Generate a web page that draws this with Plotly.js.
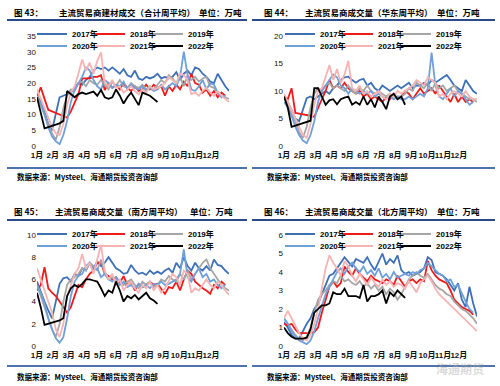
<!DOCTYPE html>
<html><head><meta charset="utf-8">
<script src="https://cdn.plot.ly/plotly-3.0.1.min.js"></script>
<style>html,body{margin:0;padding:0;background:#fff}#chart{width:500px;height:386px}</style>
</head><body><div id="chart"></div>
<script>
// ---------- data ----------
const years = ['2017年','2018年','2019年','2020年','2021年','2022年'];
const months = ['1月','2月','3月','4月','5月','6月','7月','8月','9月','10月','11月','12月'];

// Panel 43: total (万吨)
const p1_2017 = [16,14,11,7,5,10,15.5,16,16.5,17,18.5,20,19.5,21,22,24,25,24.5,25,24,25,24,23,24.5,22.5,22,24,21.5,21,22,21.5,22,23,21.5,22,21.5,22,23.5,21,23,24,22.5,25,24.5,23,22,20.5,20,23,21,19,17.5];
const p1_2018 = [15.5,18.7,15,11.5,11,10.5,10,9.5,9,11,13.5,16.5,21.5,21.5,21.5,22,22,22.5,17.8,20,18.5,19.5,18,20,18.5,17.5,19,17.5,18,19.5,18,19.5,18.5,19,16,19,17.5,19.5,18,20.5,19,23,20,19.5,17,18,16,17.5,15.5,17,16];
const p1_2019 = [16,13,10,7,4,2,6,12,16,18,17.5,20,20.5,19,21,20,19.5,21,19.5,18,20.5,19,21,19,18.5,20,19,18.5,19.5,18,19,18,19.5,21,20,22.5,21.5,20,22,19,22.5,21,22,20.5,21.5,22,19,18.5,17,16,15.5,15];
const p1_2020 = [15,13.5,10,6,3,1.5,0.6,3.5,8,14,18,20,22,25,24,21,19,18,21,20,18.5,19.5,19,20.5,18,19.5,18.5,18,19,17.5,18.5,17.5,18,19.5,18,19,20,19,22,30,22.5,18,17.5,19,21,18,20,19.5,17,15.5,16];
const p1_2021 = [18,15,12,9,6,4,3.5,7,13,17,19,23,27.5,24,26.5,23,27,29.8,20,19,21,18.5,19,17,18,19,17.5,16.5,18,17,19,18,18.5,19,20,22,21,20,23,22.5,21,16.5,17,16,17.5,18.5,17,16,17.5,16,15,14];
const p1_2022 = [15.5,11,5.6,6,6.5,6.8,7.2,8,17.5,16.5,15.5,16.5,17,16.5,17,17.3,16,17.8,15.5,15,15.5,18,16,13.5,15.5,17,15,13,17,16.5,16,15,14];

// Panel 44: East China
const p2_2017 = [9,8,6.5,5,4.5,6.5,8.7,9,8.5,9,9.5,10,9.5,10.5,11,12,12.5,12.6,12,11.5,12,12.2,11,11.5,10.5,10,11,10.5,10,10.5,11,10.5,11,11.5,10.5,11,11,11.5,11,12,11.5,12,12.5,12.9,12,11,10.5,10,12,11,10,9.5];
const p2_2018 = [9,8.5,10.5,6,5.9,5.8,5.7,5.5,5.3,7,8.5,10,12,10.5,11,10.5,11.5,10.5,10,9.5,10,9,9.5,8.5,9,8.5,8,9,8.5,9.5,8.5,9,10,9.5,8.5,9.5,10.5,9.5,10,10.5,9.5,11,10,9,8,9.5,8,9,8,8.5,8];
const p2_2019 = [9,7.5,6,4.5,2.5,1.5,3.5,7,9.5,10.5,10,11,11.5,10.5,11,10.5,10,11,10,9.5,10.5,10,11,10,9.5,10,9.5,9,9.5,8.5,9,9,9.5,10.5,10,11.5,11,10.5,11.5,10,11.5,10.5,11,10,10.5,11,10,9.5,9,8.5,8.5,8];
const p2_2020 = [8,7,5.5,3.5,2,1,0.5,2,4.5,8,10,11,12,13,12.5,11,10.5,9.5,10.5,10,9.5,10,9.5,10,9,9.5,9,8.5,9,8.5,9,8.5,8.5,9,8.5,9,9.5,9,10.5,17,11,9,8.5,9.5,10.5,9,10,9.5,8.5,7.5,8];
const p2_2021 = [9.5,8,6.5,5,3.5,2,1.5,4,7.5,10,10.5,12.5,14.7,12,14,11.5,13,15.5,10.5,10,11,9.5,10,9,9.5,10,9,8.5,9.5,9,10,9.5,10,10.5,11,12,11.5,11,12.5,12,11.5,9,9.5,8.5,9.5,10,9.5,9,10,9,8.5,8.5];
const p2_2022 = [9,7,3.5,3.7,3.9,4.1,4.3,4.6,10.5,10.5,9,7.5,8.3,8.5,7.6,8.5,8.8,9,7.5,8,7.5,9,7.5,8.5,7,9,8,6.7,9,9.5,8.5,9,7.5];

// Panel 45: South
const p3_2017 = [5.8,4.8,4,3.2,2.5,4,5.6,6.1,6.2,5.8,6.5,6.3,7,6.8,7.5,7,7.6,7.2,7.5,8,7.5,7,6.8,6.5,6.6,7.3,6.8,6.5,6.6,6.4,6.8,6.5,6.7,6.5,6.8,7,6.6,7.5,7,8,7.2,6.8,7.5,7,6.8,7.2,6.8,7.8,7.3,7.2,6.8,6.5];
const p3_2018 = [5,5.5,7.1,5.2,4.8,4.5,4,3.5,3,3.5,4.5,5.5,5.3,6,6.5,6.8,7.5,7.5,6.5,6.3,6,6.2,5.7,6.3,5.5,5.8,5,5.6,5.3,5.5,5.8,5.5,5.6,5.2,4.7,5.3,5.2,5.8,5,6,6.8,6.5,5.8,5.5,5.2,5,4.7,5.5,5.2,5.8,5.5];
const p3_2019 = [5.5,4.5,3.5,2.5,1.5,0.8,2,4,5.5,6,6.2,6.5,7,6.8,7.5,7.2,6.8,7.8,6.5,6,6.2,5.8,6,5.5,5.8,6,5.5,5.2,5.8,5.5,5.8,5.3,5.5,6,5.8,6.3,6,5.8,6.5,6,6.8,6,6.5,7,7.5,7.8,7,6.5,6,5.5,5.2,5];
const p3_2020 = [5.5,4.8,3.8,2.5,1.5,0.7,0.3,0.8,2.5,4.5,5.8,6.3,6.5,7.2,7.5,6.8,7,6.2,6.5,6,5.8,6.2,5.5,5.8,5.3,5.5,5.2,5.6,5.3,5.5,5.2,5.6,5.5,5.8,5.5,5.6,5.8,6,6.5,8.7,6.2,5.8,6.5,7,6.2,6.5,5.8,6,5.5,5.2,5.5];
const p3_2021 = [7,6,5,4,3,1.5,0.8,2,4.5,5.5,6.5,7,8.3,7,7.5,6.5,7.8,9.1,6.8,6,6.5,5.5,6,5,5.5,5.8,5.2,4.8,5.5,5.2,5.8,5,5.5,4.8,5.2,5.8,6.5,6.2,5.5,6.8,6.5,4.8,5.2,5,5.5,6,5.5,5.2,5.8,5.5,5,4.6];
const p3_2022 = [4.8,3.5,1.9,2,2.1,2.2,2.3,2.5,4.5,5.2,5.5,5.3,5.6,6,6,5.9,5.8,5.2,4.5,5,4.8,5.8,5,4,4.5,4.3,4.6,4.2,4.5,4.8,4.3,4.1,3.8];

// Panel 46: North
const p4_2017 = [1.3,1,0.6,0.4,0.4,0.8,1.2,1.5,2,2.3,2.8,3.3,3.8,3.9,4.2,4.5,4.8,4.55,4.3,4.7,4.6,4.5,4.8,4.4,4.1,4.6,5,4.4,4.7,4.5,4.9,4.1,3.9,4,3.8,3.9,4,4.2,4.8,4.65,4,3.9,3.8,3.6,3.3,3,3.4,2.5,2.1,3.2,2.3,1.6];
const p4_2018 = [1.2,1.1,1.2,0.9,0.7,0.7,0.7,0.7,0.75,1,1.8,2.5,3.2,3.5,3.2,3.4,4.3,4,3.8,4.2,3.9,3.7,3.5,3.8,3.6,3.5,3.4,3.6,3.5,3.3,3.8,3.5,3.2,3.5,3.6,3.4,3.6,3.5,4.6,4.1,3.8,3.6,3.5,3.4,3,2.5,2.3,2.1,2,1.9,1.7];
const p4_2019 = [1.5,1.2,0.9,0.6,0.4,0.3,0.5,1,1.8,2.5,2.8,3,3.3,3.5,3.4,3.8,3.5,3.6,3.4,3.3,3.5,3.2,3.4,3.1,3.3,3,3.2,2.8,3.1,2.9,2.5,2.8,3.2,3.6,3.8,4,3.8,3.7,3.9,3.6,3.3,3.1,3,2.8,2.7,2.4,2.2,2,1.9,1.7,1.5,1.2];
const p4_2020 = [1.5,1.2,0.8,0.5,0.3,0.2,0.1,0.3,0.8,1.5,2.2,2.8,3.2,3.6,4,4.2,3.9,4.3,4.5,4.2,4,4.3,3.9,4.1,3.8,4.2,3.7,3.9,3.6,4,3.7,3.8,3.9,3.8,4,3.9,4.1,4.2,4.5,4.3,4.1,3.9,3.8,3.5,3.6,3.2,3.3,2.8,2.4,2,1.8];
const p4_2021 = [1.5,1.9,1.5,1.1,0.7,0.4,0.3,0.6,1.2,2,3,4.2,4.9,4.5,4.2,3.8,4.6,4.3,3.8,3.5,3.9,3.6,3.3,3.7,3.4,3.2,3.6,3.3,3.5,3.2,3.4,3.3,3.1,3.5,3.2,2.9,3.4,3.6,3.8,3.5,3.1,2.8,2.6,2.4,2.2,2,1.8,1.6,1.4,1.2,1,0.8];
const p4_2022 = [1,0.7,0.5,0.4,0.4,0.4,0.45,0.9,1.8,2,2.2,2.2,2.3,2.9,2.8,2.8,3.1,2.7,2.7,2.7,2.6,3.3,2.4,2.7,2.7,2.8,3,2.3,2.9,2.7,3,2.8,2.6];

const titles = [
  ['图 43：','主流贸易商建材成交（合计周平均）','单位：万吨'],
  ['图 44：','主流贸易商成交量（华东周平均）','单位：万吨'],
  ['图 45：','主流贸易商成交量（南方周平均）','单位：万吨'],
  ['图 46：','主流贸易商成交量（北方周平均）','单位：万吨']
];
const sourceText = '数据来源：Mysteel、海通期货投资咨询部';

// ---------- styling ----------
const colors = ['#3E70B8','#F01A1A','#A6A6A6','#6FA0DA','#F6B3B3','#000000'];
const W = 500, H = 386;
const px = v => v / W, py = v => 1 - v / H;
const fontFam = 'Liberation Sans, Noto Sans CJK SC, sans-serif';
const cjkFam = 'Noto Sans CJK SC, sans-serif';

const panels = [
  {series:[p1_2017,p1_2018,p1_2019,p1_2020,p1_2021,p1_2022], ax:'', yr:[0,35], dt:5, xd:[37,229], yd:[146,36], legX:32, legY:[34,46]},
  {series:[p2_2017,p2_2018,p2_2019,p2_2020,p2_2021,p2_2022], ax:'2', yr:[0,20], dt:5, xd:[284,477], yd:[146,36], legX:280, legY:[34,46]},
  {series:[p3_2017,p3_2018,p3_2019,p3_2020,p3_2021,p3_2022], ax:'3', yr:[0,10], dt:2, xd:[37,229], yd:[346,235], legX:32, legY:[234,246]},
  {series:[p4_2017,p4_2018,p4_2019,p4_2020,p4_2021,p4_2022], ax:'4', yr:[0,6], dt:1, xd:[284,477], yd:[346,235], legX:280, legY:[234,246]}
];

const traces = [];
const layout = {
  width: W, height: H, margin:{l:0,r:0,t:0,b:0},
  paper_bgcolor:'#ffffff', plot_bgcolor:'rgba(0,0,0,0)',
  showlegend: true, annotations: [], shapes: []
};
const monthTicks = months.map((m,i) => i * 4.2);
const colStep = 58;

panels.forEach((p, pi) => {
  p.series.forEach((arr, si) => {
    const n = pi * 6 + si + 1;
    const ln = n === 1 ? 'legend' : 'legend' + n;
    traces.push({
      type:'scatter', mode:'lines',
      x: arr.map((_, i) => i), y: arr,
      name: years[si],
      xaxis: 'x' + p.ax, yaxis: 'y' + p.ax,
      legend: ln,
      line: {color: colors[si], width: 1.8},
      hoverinfo:'skip'
    });
    layout[ln] = {
      orientation:'h', x: px(p.legX + (si % 3) * colStep), xanchor:'left',
      y: py(p.legY[Math.floor(si / 3)]), yanchor:'middle',
      bgcolor:'rgba(0,0,0,0)', borderwidth:0,
      font:{family: fontFam, size: 8, color:'#000', weight:'bold'}
    };
  });
  layout['xaxis' + p.ax] = {
    domain:[px(p.xd[0]), px(p.xd[1])], anchor:'y' + p.ax, range:[0,51],
    tickvals: monthTicks, ticktext: months, tickangle: 0,
    showgrid:false, zeroline:false, showline:false, ticks:'',
    ticklabelstandoff: 3,
    tickfont:{family: fontFam, size: 8, color:'#111', weight:'bold'}, fixedrange:true
  };
  layout['yaxis' + p.ax] = {
    domain:[py(p.yd[0]), py(p.yd[1])], anchor:'x' + p.ax, range:p.yr,
    tick0:0, dtick:p.dt,
    showgrid:false, zeroline:false, showline:false, ticks:'',
    tickfont:{family: fontFam, size: 8, color:'#111'}, fixedrange:true
  };
  // titles & decorations
  const left = pi % 2 === 0;
  const top = pi < 2;
  const ox = left ? 0 : 250;
  const tY = top ? 12 : 211;
  const t = titles[pi];
  const tx = left ? [12, pi === 0 ? 57 : 53, pi === 0 ? 197 : 188] : [262, 303, 435];
  const tf = {family: cjkFam, size: 8.5, color:'#000', weight:'bold'};
  t.forEach((s, k) => layout.annotations.push({
    text: s, x: px(tx[k]), y: py(tY), xref:'paper', yref:'paper',
    xanchor:'left', yanchor:'middle', showarrow:false, font: tf
  }));
  layout.annotations.push({
    text: sourceText, x: px(ox + 15), y: py(top ? 176 : 376), xref:'paper', yref:'paper',
    xanchor:'left', yanchor:'middle', showarrow:false,
    font:{family: cjkFam, size: 7.5, color:'#000', weight:'bold'}
  });
  const lx0 = left ? 7 : 252, lx1 = left ? 247 : 495;
  layout.shapes.push({type:'line', xref:'paper', yref:'paper', x0:px(lx0), x1:px(lx1),
    y0:py(top ? 20 : 220), y1:py(top ? 20 : 220), line:{color:'#2B4A8A', width:2}});
  layout.shapes.push({type:'line', xref:'paper', yref:'paper', x0:px(lx0), x1:px(lx1),
    y0:py(top ? 168 : 366), y1:py(top ? 168 : 366), line:{color:'#4E72AE', width:2}});
});

// watermark
layout.annotations.push({
  text:'海通期货', x: px(460), y: py(368), xref:'paper', yref:'paper',
  xanchor:'center', yanchor:'middle', showarrow:false,
  font:{family: cjkFam, size: 12, color:'rgba(170,170,170,0.45)', weight:'bold'}
});

Plotly.newPlot('chart', traces, layout, {displayModeBar:false, staticPlot:true});
</script>
</body></html>
